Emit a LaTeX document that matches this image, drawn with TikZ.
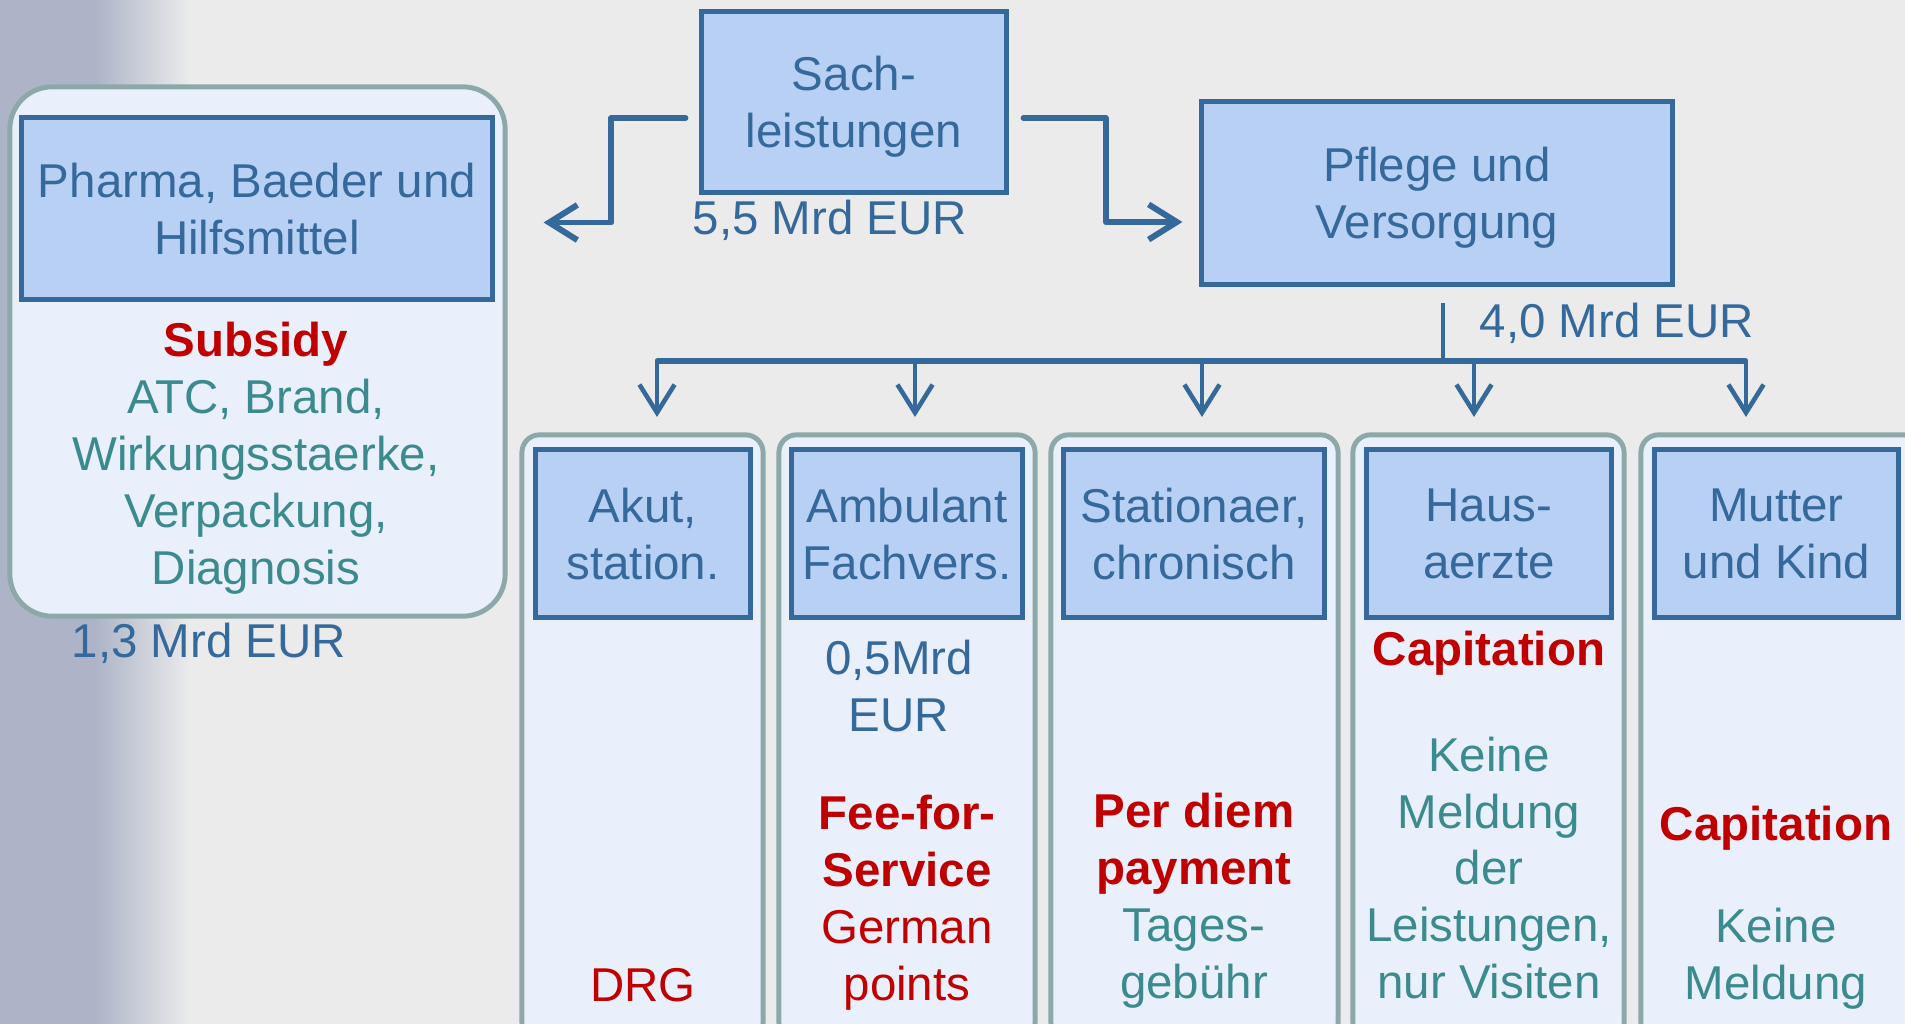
\documentclass[tikz,border=0pt]{standalone}
\usepackage{fontspec}
\setmainfont{Liberation Sans}
\usetikzlibrary{arrows.meta}
\definecolor{bgcol}{HTML}{EBEBEB}
\definecolor{gradcol}{HTML}{ADB4C7}
\definecolor{boxfill}{HTML}{B8D0F3}
\definecolor{boxline}{HTML}{35699B}
\definecolor{panelfill}{HTML}{EAF0FB}
\definecolor{panelline}{HTML}{8DA8A9}
\definecolor{payred}{HTML}{C00000}
\definecolor{noteteal}{HTML}{3B8B8E}
\begin{document}
\begin{tikzpicture}[x=0.01cm,y=-0.01cm,
    every node/.style={font=\fontsize{13.5}{16.2}\selectfont,align=center,inner sep=0pt},
    panel/.style={draw=panelline,fill=panelfill,line width=1.4pt,rounded corners=5pt,minimum height=6.05cm},
    head/.style={draw=boxline,fill=boxfill,line width=1.4pt,text=boxline,text depth=0pt,minimum height=1.67cm},
    amount/.style={text=boxline},
    pay/.style={text=payred,font=\fontsize{13.5}{16.2}\selectfont\bfseries},
    note/.style={text=noteteal},
    flow/.style={draw=boxline,line width=1.7pt,line cap=round,line join=round,-{Straight Barb[length=8pt,width=10pt]}},
    drop/.style={draw=boxline,line width=1.3pt,line cap=round,-{Straight Barb[length=8pt,width=10pt]}}]
    \useasboundingbox (0,0) rectangle (1905,1024);
    \clip (0,0) rectangle (1905,1024);
    \fill[bgcol] (0,0) rectangle (1905,1024);
    \fill[gradcol] (0,0) rectangle (95,1024);
    \shade[left color=gradcol,right color=bgcol] (95,0) rectangle (190,1024);

    \node[panel,rounded corners=12pt,minimum width=4.95cm,minimum height=5.29cm] (pharmabox) at (257.5,351.5) {};
    \node[head,minimum width=4.70cm,minimum height=1.81cm] (pharma) at (257,208.5) {Pharma, Baeder und\\Hilfsmittel};
    \node[head,minimum width=3.04cm,minimum height=1.80cm] (sach) at (854,102) {Sach-\\leistungen};
    \node[head,minimum width=4.70cm,minimum height=1.82cm] (pflege) at (1437,193) {Pflege und\\Versorgung};

    \node[panel,minimum width=2.41cm] (p1) at (642.5,737.5) {};
    \node[panel,minimum width=2.56cm] (p2) at (907,737.5) {};
    \node[panel,minimum width=2.87cm] (p3) at (1194.5,737.5) {};
    \node[panel,minimum width=2.71cm] (p4) at (1488.5,737.5) {};
    \node[panel,minimum width=2.89cm] (p5) at (1785.5,737.5) {};

    \node[head,minimum width=2.14cm] (akut) at (643,533.5) {Akut,\\station.};
    \node[head,minimum width=2.30cm] (ambulant) at (907,533.5) {Ambulant\\Fachvers.};
    \node[head,minimum width=2.60cm] (stationaer) at (1194,533.5) {Stationaer,\\chronisch};
    \node[head,minimum width=2.44cm] (haus) at (1489,533.5) {Haus-\\aerzte};
    \node[head,minimum width=2.43cm] (mutter) at (1776.5,533.5) {Mutter\\und Kind};

    \node[note] (pharmatxt) at (256,458)
        {\textcolor{payred}{\bfseries Subsidy}\\ATC, Brand,\\Wirkungsstaerke,\\Verpackung,\\Diagnosis};
    \node[amount] (sum13) at (209,643) {1,3 Mrd EUR};
    \node[amount] (sum55) at (830,220) {5,5 Mrd EUR};
    \node[amount,anchor=west] (sum40) at (1479,323) {4,0 Mrd EUR};

    \node[text=payred] (drg) at (643,985) {DRG};
    \node[amount] (sum05) at (899,686) {0,5Mrd\\EUR};
    \node[text=payred] (fee) at (907,903) {\bfseries Fee-for-\\\bfseries Service\\German\\points};
    \node[note] (diem) at (1194,901) {\textcolor{payred}{\bfseries Per diem}\\\textcolor{payred}{\bfseries payment}\\Tages-\\gebühr};
    \node[pay] (cap1) at (1489,653) {Capitation};
    \node[note] (keine1) at (1489,868) {Keine\\Meldung\\der\\Leistungen,\\nur Visiten};
    \node[pay] (cap2) at (1776,828) {Capitation};
    \node[note] (keine2) at (1776,959) {Keine\\Meldung};

    \draw[flow] ([shift={(-14,16)}]sach.west) -- ++(-74,0) |- ([shift={(49,14)}]pharma.east);
    \draw[flow] ([shift={(15,16)}]sach.east) -- ++(82,0) |- ([shift={(-17,29)}]pflege.west);

    \draw[boxline,line width=1.1pt] ([shift={(6,16)}]pflege.south) -- ++(0,58) coordinate (hub);
    \foreach \x [count=\i] in {657,915,1202,1474,1746}
        \coordinate (tip\i) at (\x,417);
    \draw[boxline,line width=1.7pt] (tip1 |- hub) -- (tip5 |- hub);
    \foreach \i in {1,...,5}
        \draw[drop] (tip\i |- hub) -- (tip\i);
\end{tikzpicture}
\end{document}
